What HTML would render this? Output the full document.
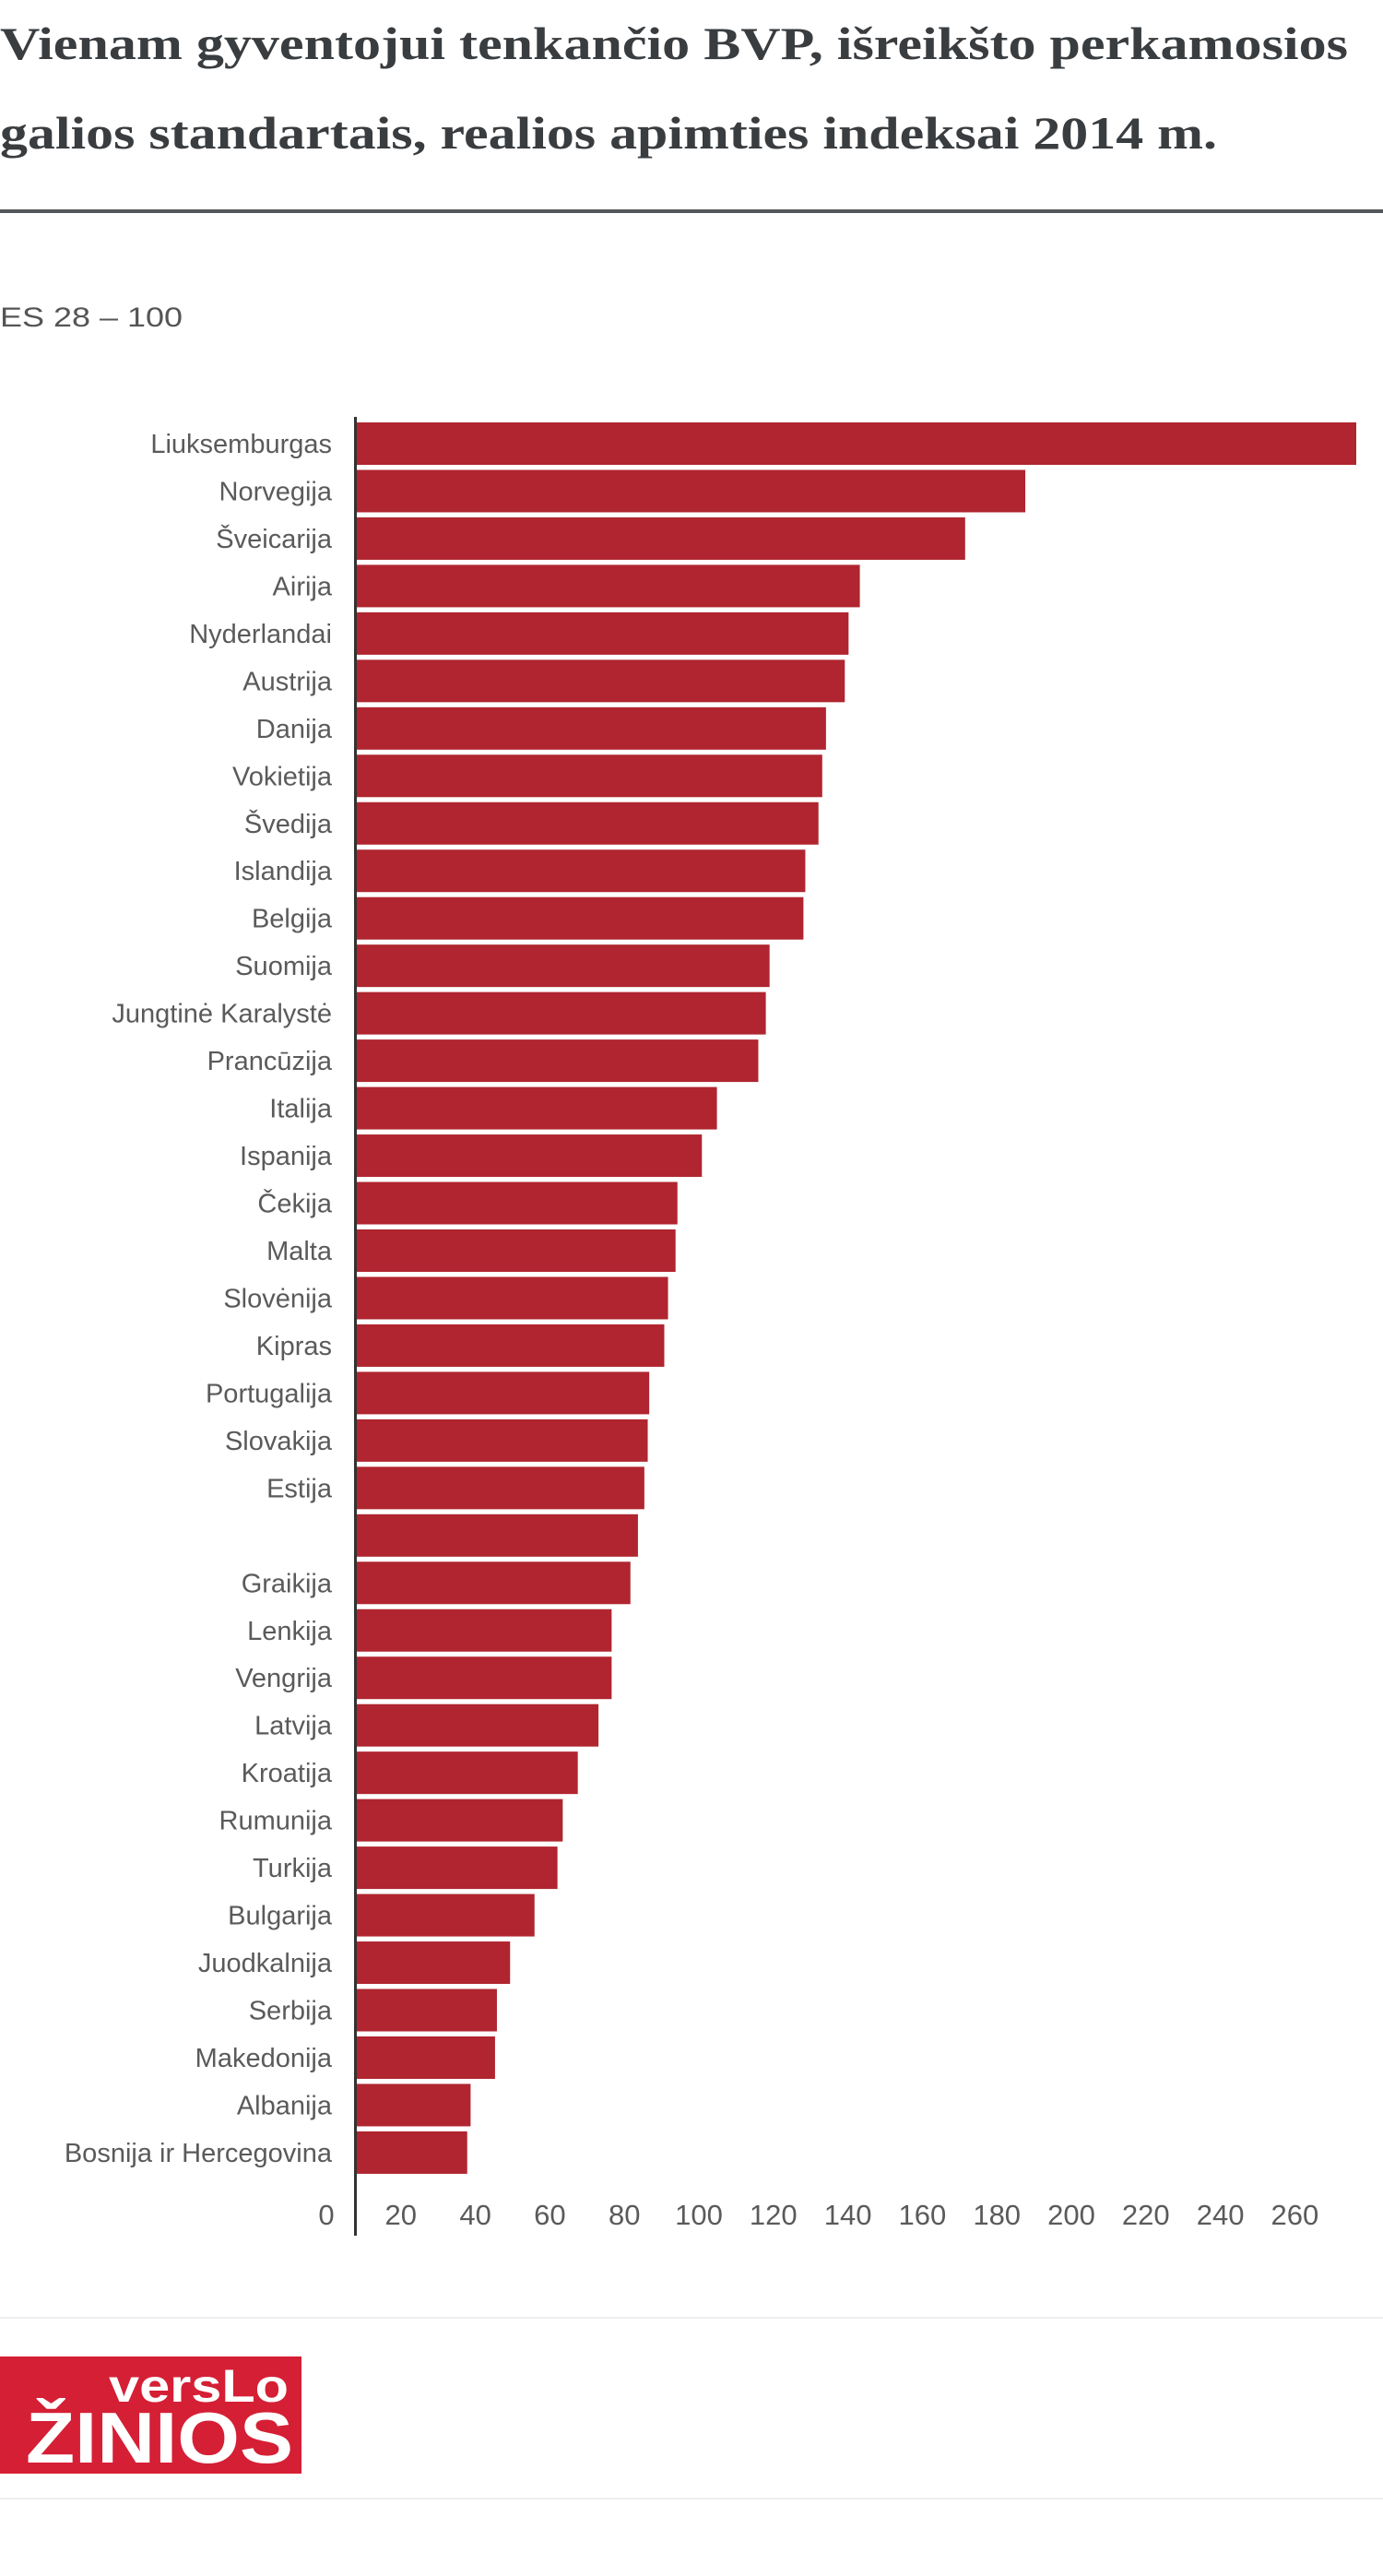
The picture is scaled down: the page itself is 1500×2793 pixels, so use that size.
<!DOCTYPE html>
<html><head><meta charset="utf-8"><style>
html,body{margin:0;padding:0;background:#fff;width:1500px;height:2793px;overflow:hidden}
svg{display:block}
</style></head><body>
<svg id="chart" width="1500" height="2793" viewBox="0 0 1500 2793" xmlns="http://www.w3.org/2000/svg">
<text x="0" y="64" font-family="'Liberation Serif',serif" font-weight="bold" font-size="50" fill="#3a3d40" textLength="1462" lengthAdjust="spacingAndGlyphs">Vienam gyventojui tenkančio BVP, išreikšto perkamosios</text>
<text x="0" y="161" font-family="'Liberation Serif',serif" font-weight="bold" font-size="50" fill="#3a3d40" textLength="1320" lengthAdjust="spacingAndGlyphs">galios standartais, realios apimties indeksai 2014 m.</text>
<rect x="0" y="227" width="1500" height="4" fill="#55585b"/>
<text x="0" y="354" font-family="'Liberation Sans',sans-serif" font-size="30" fill="#555" textLength="198" lengthAdjust="spacingAndGlyphs">ES 28 – 100</text>
<g id="bars"></g>
<g id="labels"></g>
<g id="ticks"></g>
<rect x="384" y="452" width="3" height="1972" fill="#333"/>
<rect x="0" y="2512" width="1500" height="2" fill="#eee"/>
<g>
<rect x="0" y="2555" width="327" height="127" fill="#d51f35"/>
<text x="118" y="2604" font-family="'Liberation Sans',sans-serif" font-weight="bold" font-size="50" fill="#fff" textLength="195" lengthAdjust="spacingAndGlyphs">versLo</text>
<text x="28" y="2670" font-family="'Liberation Sans',sans-serif" font-weight="bold" font-size="78" fill="#fff" textLength="290" lengthAdjust="spacingAndGlyphs">ŽINIOS</text>
</g>
<rect x="0" y="2708" width="1500" height="2" fill="#eee"/>
</svg>
<script>
const categories = ["Liuksemburgas","Norvegija","Šveicarija","Airija","Nyderlandai","Austrija","Danija","Vokietija","Švedija","Islandija","Belgija","Suomija","Jungtinė Karalystė","Prancūzija","Italija","Ispanija","Čekija","Malta","Slovėnija","Kipras","Portugalija","Slovakija","Estija","","Graikija","Lenkija","Vengrija","Latvija","Kroatija","Rumunija","Turkija","Bulgarija","Juodkalnija","Serbija","Makedonija","Albanija","Bosnija ir Hercegovina"];
const values = [266,178,162,134,131,130,125,124,123,119.5,119,110,109,107,96,92,85.5,85,83,82,78,77.6,76.7,75,73,68,68,64.5,59,55,53.6,47.5,41,37.5,37,30.5,29.6];
const tickValues = [0,20,40,60,80,100,120,140,160,180,200,220,240,260];
const NS="http://www.w3.org/2000/svg";
const x0=386, pxPer=(1471-386)/266;
function xScale(v){return x0+v*pxPer;}
function yScale(i){return 458+i*51.47;}
function tickX(v){return 354+v*4.04;}
const gb=document.getElementById('bars'),gl=document.getElementById('labels'),gt=document.getElementById('ticks');
categories.forEach((c,i)=>{
  const r=document.createElementNS(NS,'rect');
  r.setAttribute('x',x0+1);r.setAttribute('y',yScale(i));
  r.setAttribute('width',xScale(values[i])-x0-1);r.setAttribute('height',46);
  r.setAttribute('fill','#b0252f');
  
  
  gb.appendChild(r);
  const t=document.createElementNS(NS,'text');
  t.setAttribute('x',360);t.setAttribute('y',yScale(i)+33);
  t.setAttribute('text-anchor','end');t.setAttribute('font-family',"'Liberation Sans',sans-serif");
  t.setAttribute('font-size','29');t.setAttribute('fill','#5a5a5a');
  t.textContent=c;
  
  
  gl.appendChild(t);
});
tickValues.forEach(v=>{
  const t=document.createElementNS(NS,'text');
  t.setAttribute('x',tickX(v));t.setAttribute('y',2412);
  t.setAttribute('text-anchor','middle');t.setAttribute('font-family',"'Liberation Sans',sans-serif");
  t.setAttribute('font-size','31');t.setAttribute('fill','#5a5a5a');
  t.textContent=v;
  
  
  gt.appendChild(t);
});
</script>
</body></html>
